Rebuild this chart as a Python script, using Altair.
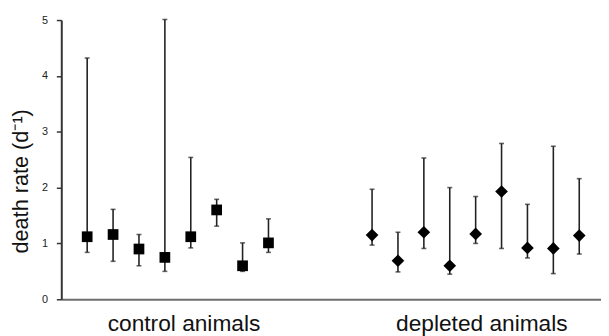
import altair as alt
import pandas as pd

# control animals (squares)
ctrl_pos = [1, 2, 3, 4, 5, 6, 7, 8]
ctrl_val = [1.12, 1.16, 0.90, 0.75, 1.12, 1.60, 0.60, 1.01]
ctrl_lo = [0.84, 0.68, 0.60, 0.50, 0.92, 1.31, 0.50, 0.84]
ctrl_hi = [4.32, 1.61, 1.16, 5.01, 2.54, 1.79, 1.01, 1.44]

# depleted animals (diamonds)
depl_pos = [12, 13, 14, 15, 16, 17, 18, 19, 20]
depl_val = [1.15, 0.69, 1.20, 0.60, 1.17, 1.93, 0.92, 0.91, 1.14]
depl_lo = [0.97, 0.49, 0.91, 0.45, 1.00, 0.91, 0.74, 0.46, 0.81]
depl_hi = [1.97, 1.20, 2.53, 2.00, 1.84, 2.79, 1.70, 2.74, 2.16]

group_label_pos = [4.72, 16.22]
group_labels = ["control animals", "depleted animals"]
y_ticks = [0, 1, 2, 3, 4, 5]

ctrl = pd.DataFrame({"pos": ctrl_pos, "val": ctrl_val, "lo": ctrl_lo, "hi": ctrl_hi, "grp": "control"})
depl = pd.DataFrame({"pos": depl_pos, "val": depl_val, "lo": depl_lo, "hi": depl_hi, "grp": "depleted"})
df = pd.concat([ctrl, depl], ignore_index=True)

FONT = "Liberation Sans"
label_expr = "datum.value < 10 ? '%s' : '%s'" % (group_labels[0], group_labels[1])

x = alt.X(
    "pos:Q",
    scale=alt.Scale(domain=[0, 20.84], nice=False, zero=False),
    axis=alt.Axis(
        values=group_label_pos,
        labelExpr=label_expr,
        ticks=False,
        grid=False,
        title=None,
        domainColor="#6e6e6e",
        domainWidth=2,
        labelFont=FONT,
        labelFontSize=23,
        labelColor="#111111",
        labelPadding=14,
        labelFlush=False,
        labelOverlap=False,
    ),
)
y_axis = alt.Axis(
    values=y_ticks,
    format="d",
    grid=False,
    title="death rate (d\u207b\u00b9)",
    titleFont=FONT,
    titleFontSize=22,
    titleFontWeight="normal",
    titleColor="#111111",
    titleX=-41,
    titleY=163,
    titleAngle=-90,
    titleAlign="center",
    titleBaseline="middle",
    domainColor="#333333",
    domainWidth=2,
    tickColor="#333333",
    tickWidth=1.5,
    tickSize=5,
    labelFont=FONT,
    labelFontSize=11,
    labelColor="#222222",
    labelPadding=9,
)
yscale = alt.Scale(domain=[0, 5], nice=False)

base = alt.Chart(df)

bars = base.mark_rule(color="#222222", strokeWidth=1.6).encode(
    x=x,
    y=alt.Y("lo:Q", scale=yscale, axis=y_axis),
    y2="hi:Q",
)
cap_hi = base.mark_tick(color="#222222", orient="horizontal", size=5, thickness=1.6).encode(
    x="pos:Q", y="hi:Q"
)
cap_lo = base.mark_tick(color="#222222", orient="horizontal", size=5, thickness=1.6).encode(
    x="pos:Q", y="lo:Q"
)
squares = alt.Chart(ctrl).mark_square(color="#000000", size=118, opacity=1).encode(
    x="pos:Q", y="val:Q"
)
diamonds = alt.Chart(depl).mark_point(
    shape="diamond", filled=True, color="#000000", size=165, opacity=1
).encode(x="pos:Q", y="val:Q")

chart = (
    alt.layer(bars, cap_hi, cap_lo, squares, diamonds)
    .properties(
        width=547,
        height=283,
        autosize=alt.AutoSizeParams(type="none"),
        padding={"left": 54, "top": 10, "right": 0, "bottom": 35},
        background="white",
    )
    .configure_view(stroke=None)
)

chart.save("out.html", embed_options={"renderer": "svg", "actions": False})
